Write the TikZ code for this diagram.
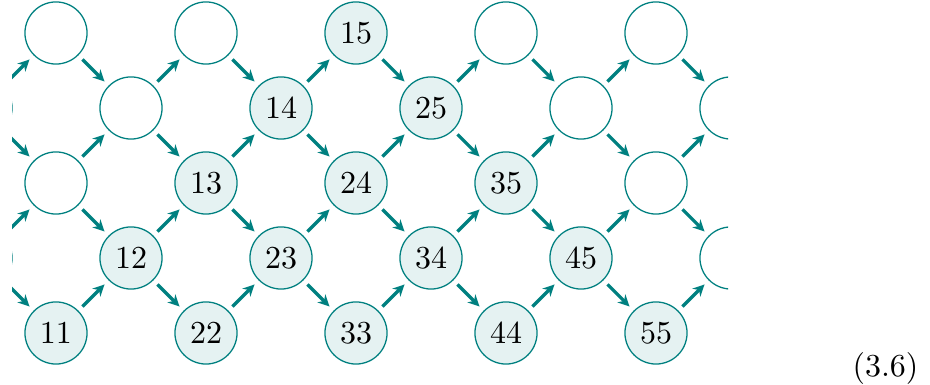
\documentclass[tikz,border=0pt]{standalone}
\usetikzlibrary{arrows.meta}
\begin{document}
\begin{tikzpicture}[x=0.3125pt,y=-0.3125pt,
  cell/.style={circle,draw=teal,line width=0.4pt,minimum size=19.4pt,inner sep=0pt},
  full/.style={cell,fill=teal!10},
  link/.style={draw=teal,line width=1pt,-{Stealth[length=3.6pt,width=3.5pt]},shorten <=1.8pt,shorten >=1.8pt}]
\useasboundingbox (0,0) rectangle (930,385);
\begin{scope}
\clip (12,-10) rectangle (728,380);
\foreach \j in {-1,...,9} {
  \foreach \r in {0,...,4} {
    \pgfmathtruncatemacro{\pty}{mod(\j+\r+2,2)}
    \ifnum\pty=0
      \pgfmathtruncatemacro{\k}{4-\r}
      \pgfmathtruncatemacro{\a}{(\j-\k)/2+1}
      \pgfmathtruncatemacro{\b}{\a+\k}
      \pgfmathtruncatemacro{\ok}{(\a>=1)&&(\b<=5)}
      \ifnum\ok=1
        \node[full] (n\j-\r) at ({56+75*\j},{33+75*\r}) {\a\b};
      \else
        \node[cell] (n\j-\r) at ({56+75*\j},{33+75*\r}) {};
      \fi
    \fi
  }
}
\foreach \j in {-1,...,8} {
  \foreach \r in {0,...,4} {
    \pgfmathtruncatemacro{\pty}{mod(\j+\r+2,2)}
    \pgfmathtruncatemacro{\jn}{\j+1}
    \pgfmathtruncatemacro{\ru}{\r-1}
    \pgfmathtruncatemacro{\rd}{\r+1}
    \ifnum\pty=0
      \ifnum\r>0 \draw[link] (n\j-\r) -- (n\jn-\ru); \fi
      \ifnum\r<4 \draw[link] (n\j-\r) -- (n\jn-\rd); \fi
    \fi
  }
}
\end{scope}
\node[anchor=base east,inner sep=0pt] (eq) at (919,377) {(3.6)};
\end{tikzpicture}
\end{document}
